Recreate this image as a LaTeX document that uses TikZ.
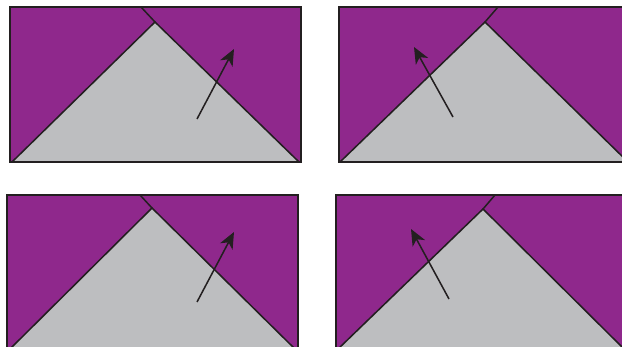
\documentclass[tikz,border=0pt]{standalone}
\usetikzlibrary{arrows.meta}
\definecolor{wedgepurple}{HTML}{8F288C}
\definecolor{groundgray}{HTML}{BDBEC0}
\definecolor{ink}{HTML}{231F20}

\begin{document}
\begin{tikzpicture}[
    x=0.03cm, y=-0.03cm,
    % Purple panel background
    panel/.style={fill=wedgepurple},
    % Panel outline
    frame/.style={draw=ink, line width=1.5pt},
    % Gray triangle
    wedge/.style={fill=groundgray},
    % Triangle sides
    side/.style={draw=ink, line width=1.3pt, line join=miter},
    % Direction arrow
    arr/.style={-{Stealth[length=14pt, width=12pt, inset=4pt]}, line width=1.3pt, ink}
]
\useasboundingbox (0,0) rectangle (622,347);
\clip (0,0) rectangle (622,347);

% ---------- Panel A (top left) ----------
\coordinate (aNW) at (10,7);
\coordinate (aSE) at (301,162);
\coordinate (aL) at (12,162);
\coordinate (aP) at (155,22);
\coordinate (aR) at (299,162);
\coordinate (aX) at (141,7);
\coordinate (aS) at (197,119);
\coordinate (aT) at (234,49);
\fill[panel] (aNW) rectangle (aSE);
\fill[wedge] (aL) -- (aP) -- (aR) -- cycle;
\draw[side] (aL) -- (aP) -- (aR);
\draw[side] (aP) -- (aX);
\draw[frame] (aNW) rectangle (aSE);
\draw[arr] (aS) -- (aT);

% ---------- Panel B (top right) ----------
\coordinate (bNW) at (339,7);
\coordinate (bSE) at (630,162);
\coordinate (bL) at (340,162);
\coordinate (bP) at (485,22);
\coordinate (bR) at (628,162);
\coordinate (bX) at (498,7);
\coordinate (bS) at (453,117);
\coordinate (bT) at (414,47);
\fill[panel] (bNW) rectangle (bSE);
\fill[wedge] (bL) -- (bP) -- (bR) -- cycle;
\draw[side] (bL) -- (bP) -- (bR);
\draw[side] (bP) -- (bX);
\draw[frame] (bNW) rectangle (bSE);
\draw[arr] (bS) -- (bT);

% ---------- Panel C (bottom left) ----------
\coordinate (cNW) at (7,195);
\coordinate (cSE) at (298,350);
\coordinate (cL) at (9,350);
\coordinate (cP) at (152,208);
\coordinate (cR) at (296,350);
\coordinate (cX) at (140,195);
\coordinate (cS) at (197,302);
\coordinate (cT) at (234,232);
\fill[panel] (cNW) rectangle (cSE);
\fill[wedge] (cL) -- (cP) -- (cR) -- cycle;
\draw[side] (cL) -- (cP) -- (cR);
\draw[side] (cP) -- (cX);
\draw[frame] (cNW) rectangle (cSE);
\draw[arr] (cS) -- (cT);

% ---------- Panel D (bottom right) ----------
\coordinate (dNW) at (336,195);
\coordinate (dSE) at (627,350);
\coordinate (dL) at (337,350);
\coordinate (dP) at (483,209);
\coordinate (dR) at (625,350);
\coordinate (dX) at (495,195);
\coordinate (dS) at (449,299);
\coordinate (dT) at (411,229);
\fill[panel] (dNW) rectangle (dSE);
\fill[wedge] (dL) -- (dP) -- (dR) -- cycle;
\draw[side] (dL) -- (dP) -- (dR);
\draw[side] (dP) -- (dX);
\draw[frame] (dNW) rectangle (dSE);
\draw[arr] (dS) -- (dT);

\end{tikzpicture}
\end{document}
